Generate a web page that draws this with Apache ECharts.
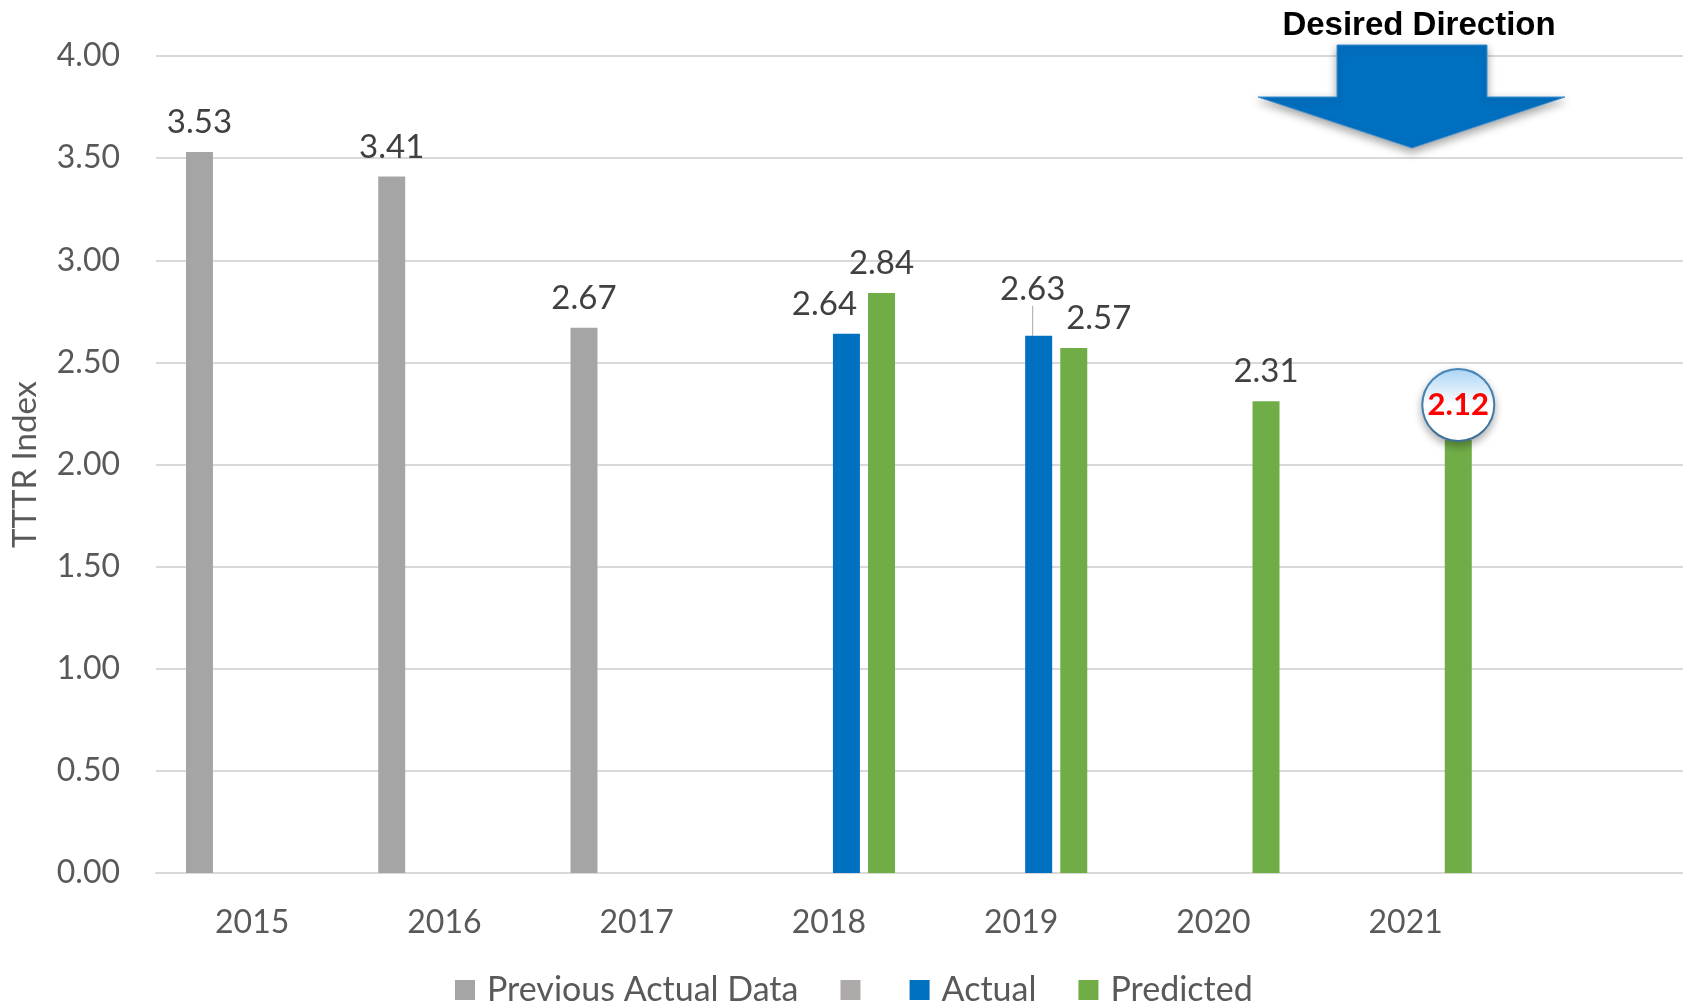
<!DOCTYPE html>
<html>
<head>
<meta charset="utf-8">
<script src="https://cdn.jsdelivr.net/npm/echarts@6/dist/echarts.min.js"></script>
<style>
  html, body { margin: 0; padding: 0; background: #ffffff; }
  #chart { width: 1683px; height: 1005px; }
</style>
</head>
<body>
<div id="chart"></div>
<script>
// Years on the category axis (the last slot is left empty as spare room)
const years = ['2015', '2016', '2017', '2018', '2019', '2020', '2021', ''];

// TTTR index values per series
const previousActual = [3.53, 3.41, 2.67, null, null, null, null, null];
const spareGray      = [null, null, null, null, null, null, null, null];
const actual         = [null, null, null, 2.64, 2.63, null, null, null];
const predicted      = [null, null, null, 2.84, 2.57, 2.31, 2.12, null];

// Value axis ticks
const yMin = 0, yMax = 4, yStep = 0.5;

const FONT = 'Lato';
const labelColor = '#404040';
const axisColor = '#595959';
const SPARE_NAME = '\u200A';

const chart = echarts.init(document.getElementById('chart'), null, { renderer: 'canvas' });

const baseLabel = {
  show: true,
  position: 'top',
  distance: 13,
  fontFamily: FONT,
  fontSize: 33,
  color: labelColor,
  formatter: p => p.value == null ? '' : Number(p.value).toFixed(2)
};

function withLabel(values, overrides) {
  return values.map((v, i) => {
    if (v == null) return null;
    const item = { value: v };
    if (overrides && overrides[i]) Object.assign(item, overrides[i]);
    return item;
  });
}

const actualItems = withLabel(actual, {
  4: { labelLine: { show: true, lineStyle: { color: '#A6A6A6', width: 1 } } }
});

const predictedItems = withLabel(predicted, {
  4: { label: { offset: [25, 0] } },
  6: {
    label: {
      distance: 0,
      width: 70,
      height: 70,
      lineHeight: 70,
      padding: 0,
      align: 'center',
      fontWeight: 'bold',
      fontSize: 31,
      color: '#FF0000',
      borderRadius: 36,
      borderColor: '#4A8CBF',
      borderWidth: 2,
      backgroundColor: new echarts.graphic.LinearGradient(0, 0, 0, 1, [
        { offset: 0, color: '#A9D3F4' },
        { offset: 0.5, color: '#FFFFFF' },
        { offset: 1, color: '#FFFFFF' }
      ]),
      shadowBlur: 8,
      shadowOffsetY: 4,
      shadowColor: 'rgba(0,0,0,0.28)'
    }
  }
});

const option = {
  animation: false,
  backgroundColor: '#ffffff',
  textStyle: { fontFamily: FONT },
  grid: { left: 156, top: 56, width: 1538, height: 817, outerBoundsMode: 'none', containLabel: false },
  legend: {
    left: 455,
    top: 973,
    padding: 0,
    itemGap: 42,
    itemWidth: 20,
    itemHeight: 20,
    icon: 'rect',
    textStyle: { fontFamily: FONT, fontSize: 34, color: axisColor, padding: [0, 0, 0, 7] },
    data: [
      'Previous Actual Data',
      { name: SPARE_NAME, textStyle: { padding: 0 } },
      'Actual',
      'Predicted'
    ]
  },
  xAxis: {
    type: 'category',
    data: years,
    axisTick: { show: false },
    axisLine: { show: true, lineStyle: { color: '#D9D9D9', width: 2 } },
    axisLabel: { fontFamily: FONT, fontSize: 32, color: axisColor, margin: 34 }
  },
  yAxis: {
    type: 'value',
    min: yMin,
    max: yMax,
    interval: yStep,
    name: 'TTTR Index',
    nameLocation: 'middle',
    nameGap: 114,
    nameTextStyle: { fontFamily: FONT, fontSize: 33, color: axisColor },
    axisLine: { show: false },
    axisTick: { show: false },
    splitLine: { lineStyle: { color: '#D9D9D9', width: 2 } },
    axisLabel: {
      fontFamily: FONT, fontSize: 32, color: axisColor, margin: 36,
      formatter: v => v.toFixed(2)
    }
  },
  series: [
    {
      name: 'Previous Actual Data', type: 'bar', barWidth: 27, barGap: '30%',
      itemStyle: { color: '#A5A5A5' },
      label: baseLabel,
      data: withLabel(previousActual)
    },
    {
      name: SPARE_NAME, type: 'bar', barWidth: 27, barGap: '30%',
      itemStyle: { color: '#AEAAAA' },
      label: baseLabel,
      data: spareGray
    },
    {
      name: 'Actual', type: 'bar', barWidth: 27, barGap: '30%',
      itemStyle: { color: '#0070C0' },
      label: baseLabel,
      labelLayout: p => {
        if (p.dataIndex === 3) return { dx: -22 };
        if (p.dataIndex === 4) return { dx: -6, dy: -17 };
        return null;
      },
      data: actualItems
    },
    {
      name: 'Predicted', type: 'bar', barWidth: 27, barGap: '30%',
      itemStyle: { color: '#70AD47' },
      label: baseLabel,
      data: predictedItems
    }
  ],
  graphic: [
    {
      type: 'polygon',
      z: 100,
      shape: {
        points: [
          [1337, 45], [1487, 45], [1487, 97], [1565, 97],
          [1412, 148], [1258, 97], [1337, 97]
        ]
      },
      style: {
        fill: '#0070C0',
        stroke: '#3D8FD1',
        lineWidth: 1,
        shadowBlur: 8,
        shadowOffsetY: 4,
        shadowColor: 'rgba(0,0,0,0.35)'
      }
    },
    {
      type: 'text',
      z: 100,
      x: 1419,
      y: 26,
      style: {
        text: 'Desired Direction',
        font: 'bold 33px "Liberation Sans"',
        fill: '#000000',
        align: 'center',
        verticalAlign: 'middle'
      }
    }
  ]
};

chart.setOption(option);
</script>
</body>
</html>
